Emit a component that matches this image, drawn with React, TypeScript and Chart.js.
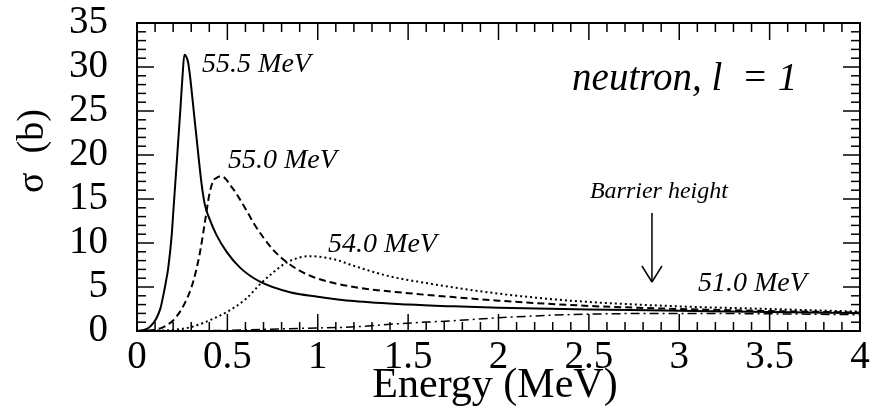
import React, { useEffect, useRef } from "react";
import { Chart, registerables } from "chart.js";

Chart.register(...registerables);

// ---- Data ----
const E_555 = [0, 0.03, 0.063, 0.09, 0.109, 0.13, 0.146, 0.16, 0.173, 0.192, 0.2, 0.22, 0.24, 0.252, 0.262, 0.272, 0.284, 0.321, 0.358, 0.376, 0.404, 0.44, 0.496, 0.57, 0.68, 0.846, 1.0, 1.2, 1.5, 1.75, 2.0, 2.5, 3.0, 3.5, 4.0];
const S_555 = [0, 0.08, 0.34, 0.9, 1.5, 2.6, 4.1, 5.6, 7.2, 10.9, 13.3, 19.2, 25.2, 29.0, 31.4, 31.2, 30.4, 23.6, 16.6, 14.3, 12.6, 10.9, 9.0, 7.2, 5.6, 4.4, 3.9, 3.4, 3.0, 2.8, 2.65, 2.45, 2.3, 2.15, 2.05];

const E_550 = [0, 0.1, 0.146, 0.2, 0.238, 0.27, 0.3, 0.325, 0.349, 0.376, 0.4, 0.42, 0.44, 0.465, 0.49, 0.515, 0.55, 0.6, 0.65, 0.7, 0.75, 0.8, 0.85, 0.9, 1.0, 1.2, 1.5, 1.75, 2.0, 2.5, 3.0, 3.5, 4.0];
const S_550 = [0, 0.15, 0.45, 1.2, 2.2, 3.4, 4.9, 6.7, 9.0, 12.4, 15.5, 17.0, 17.4, 17.6, 17.3, 16.6, 15.6, 13.9, 12.1, 10.6, 9.3, 8.3, 7.5, 6.85, 5.95, 5.0, 4.3, 3.85, 3.45, 2.85, 2.5, 2.27, 2.1];

const E_540 = [0, 0.1, 0.2, 0.3, 0.4, 0.5, 0.6, 0.68, 0.75, 0.83, 0.9, 0.95, 1.0, 1.1, 1.2, 1.4, 1.6, 1.8, 2.0, 2.25, 2.5, 3.0, 3.5, 4.0];
const S_540 = [0, 0.04, 0.12, 0.45, 1.2, 2.2, 3.6, 5.3, 6.6, 7.8, 8.35, 8.5, 8.45, 8.1, 7.4, 6.2, 5.45, 4.8, 4.25, 3.7, 3.3, 2.8, 2.5, 2.2];

const E_510 = [0, 0.3, 0.5, 0.7, 0.9, 1.18, 1.46, 1.73, 2.0, 2.28, 2.5, 3.0, 3.5, 4.0];
const S_510 = [0, 0.02, 0.08, 0.18, 0.3, 0.45, 0.85, 1.15, 1.5, 1.78, 1.92, 2.0, 1.95, 1.85];

const X_TICKS = [0, 0.5, 1, 1.5, 2, 2.5, 3, 3.5, 4];
const Y_TICKS = [0, 5, 10, 15, 20, 25, 30, 35];

const SERIES_LABELS = ["55.5 MeV", "55.0 MeV", "54.0 MeV", "51.0 MeV"];

// Annotation anchors (data coordinates)
const NOTE_TEXT = ["55.5 MeV", "55.0 MeV", "54.0 MeV", "51.0 MeV", "neutron, l  = 1", "Barrier height"];
const NOTE_X = [0.36, 0.503, 1.057, 3.104, 2.407, 2.506];
const NOTE_Y = [29.4, 18.5, 8.98, 4.55, 27.4, 15.1];
const NOTE_SIZE = [28, 28, 28, 28, 39, 24];
const ARROW_X = 2.849;
const ARROW_Y_FROM = 13.4;
const ARROW_Y_TO = 5.57;

const FONT = "'Liberation Serif', 'Times New Roman', serif";

function pts(xs: number[], ys: number[]) {
  return xs.map((x, i) => ({ x, y: ys[i] }));
}

function zeroPad(s: any) {
  s.paddingTop = 0;
  s.paddingBottom = 0;
  s.paddingLeft = 0;
  s.paddingRight = 0;
}

const decor = {
  id: "decor",
  afterDraw(chart: any) {
    const { ctx, chartArea: ca, scales } = chart;
    const x = scales.x;
    const y = scales.y;
    ctx.save();
    ctx.strokeStyle = "#000";
    ctx.fillStyle = "#000";
    ctx.lineWidth = 1.5;
    const line = (x1: number, y1: number, x2: number, y2: number) => {
      ctx.beginPath();
      ctx.moveTo(x1, y1);
      ctx.lineTo(x2, y2);
      ctx.stroke();
    };
    const xmin = X_TICKS[0];
    const xmax = X_TICKS[X_TICKS.length - 1];
    for (let i = 0; i <= Math.round((xmax - xmin) * 10); i++) {
      const v = xmin + i / 10;
      const px = x.getPixelForValue(v);
      const len = i % 5 === 0 ? 17 : 9;
      line(px, ca.bottom, px, ca.bottom - len);
      line(px, ca.top, px, ca.top + len);
    }
    const ymax = Y_TICKS[Y_TICKS.length - 1];
    for (let i = 0; i <= ymax; i++) {
      const py = y.getPixelForValue(i);
      const len = i % 5 === 0 ? 17 : 9;
      line(ca.left, py, ca.left + len, py);
      line(ca.right, py, ca.right - len, py);
    }
    ctx.lineWidth = 2;
    ctx.strokeRect(ca.left, ca.top, ca.right - ca.left, ca.bottom - ca.top);

    // annotations
    ctx.textAlign = "left";
    ctx.textBaseline = "alphabetic";
    NOTE_TEXT.forEach((t, i) => {
      ctx.font = `italic ${NOTE_SIZE[i]}px ${FONT}`;
      ctx.fillText(t, x.getPixelForValue(NOTE_X[i]), y.getPixelForValue(NOTE_Y[i]));
    });

    // arrow
    const ax = x.getPixelForValue(ARROW_X);
    const ay1 = y.getPixelForValue(ARROW_Y_FROM);
    const ay2 = y.getPixelForValue(ARROW_Y_TO);
    ctx.lineWidth = 1.5;
    line(ax, ay1, ax, ay2);
    line(ax - 10, ay2 - 16, ax, ay2);
    line(ax + 10, ay2 - 16, ax, ay2);

    // axis titles
    ctx.font = `42px ${FONT}`;
    ctx.textAlign = "center";
    ctx.fillText("Energy (MeV)", 495, 397);
    ctx.save();
    ctx.translate(43, 151);
    ctx.rotate(-Math.PI / 2);
    ctx.font = `38px ${FONT}`;
    ctx.fillText("\u03c3  (b)", 0, 0);
    ctx.restore();
    ctx.restore();
  },
};

export default function App() {
  const ref = useRef<HTMLCanvasElement>(null);
  useEffect(() => {
    if (!ref.current) return;
    const common = { pointRadius: 0, borderColor: "#000", borderWidth: 2, fill: false, cubicInterpolationMode: "monotone" as const };
    const chart = new Chart(ref.current, {
      type: "line",
      data: {
        datasets: [
          { ...common, label: SERIES_LABELS[0], data: pts(E_555, S_555) },
          { ...common, label: SERIES_LABELS[1], data: pts(E_550, S_550), borderDash: [7, 4] },
          { ...common, label: SERIES_LABELS[2], data: pts(E_540, S_540), borderDash: [2, 3] },
          { ...common, label: SERIES_LABELS[3], data: pts(E_510, S_510), borderDash: [9, 4, 2, 4], borderWidth: 1.5 },
        ],
      },
      options: {
        animation: false,
        responsive: false,
        layout: { padding: { top: 23, right: 15, left: 0, bottom: 0 } },
        plugins: { legend: { display: false }, tooltip: { enabled: false } },
        scales: {
          x: {
            type: "linear",
            min: X_TICKS[0],
            max: X_TICKS[X_TICKS.length - 1],
            grid: { display: false, drawTicks: false },
            border: { display: false },
            afterBuildTicks: (s: any) => { s.ticks = X_TICKS.map((v) => ({ value: v })); },
            afterFit: (s: any) => { s.height = 84; zeroPad(s); },
            ticks: { color: "#000", padding: 3, maxRotation: 0, autoSkip: false, font: { family: FONT, size: 39 }, callback: (v: any) => String(Number(v)) },
          },
          y: {
            type: "linear",
            min: Y_TICKS[0],
            max: Y_TICKS[Y_TICKS.length - 1],
            grid: { display: false, drawTicks: false },
            border: { display: false },
            afterBuildTicks: (s: any) => { s.ticks = Y_TICKS.map((v) => ({ value: v })); },
            afterFit: (s: any) => { s.width = 137; zeroPad(s); },
            ticks: { color: "#000", padding: 29, autoSkip: false, font: { family: FONT, size: 39 }, callback: (v: any) => String(Number(v)) },
          },
        },
      },
      plugins: [decor],
    });
    return () => chart.destroy();
  }, []);
  return (
    <div style={{ position: "absolute", left: 0, top: 0, width: 875, height: 415, background: "#fff" }}>
      <canvas ref={ref} width={875} height={415} style={{ display: "block" }} />
    </div>
  );
}
